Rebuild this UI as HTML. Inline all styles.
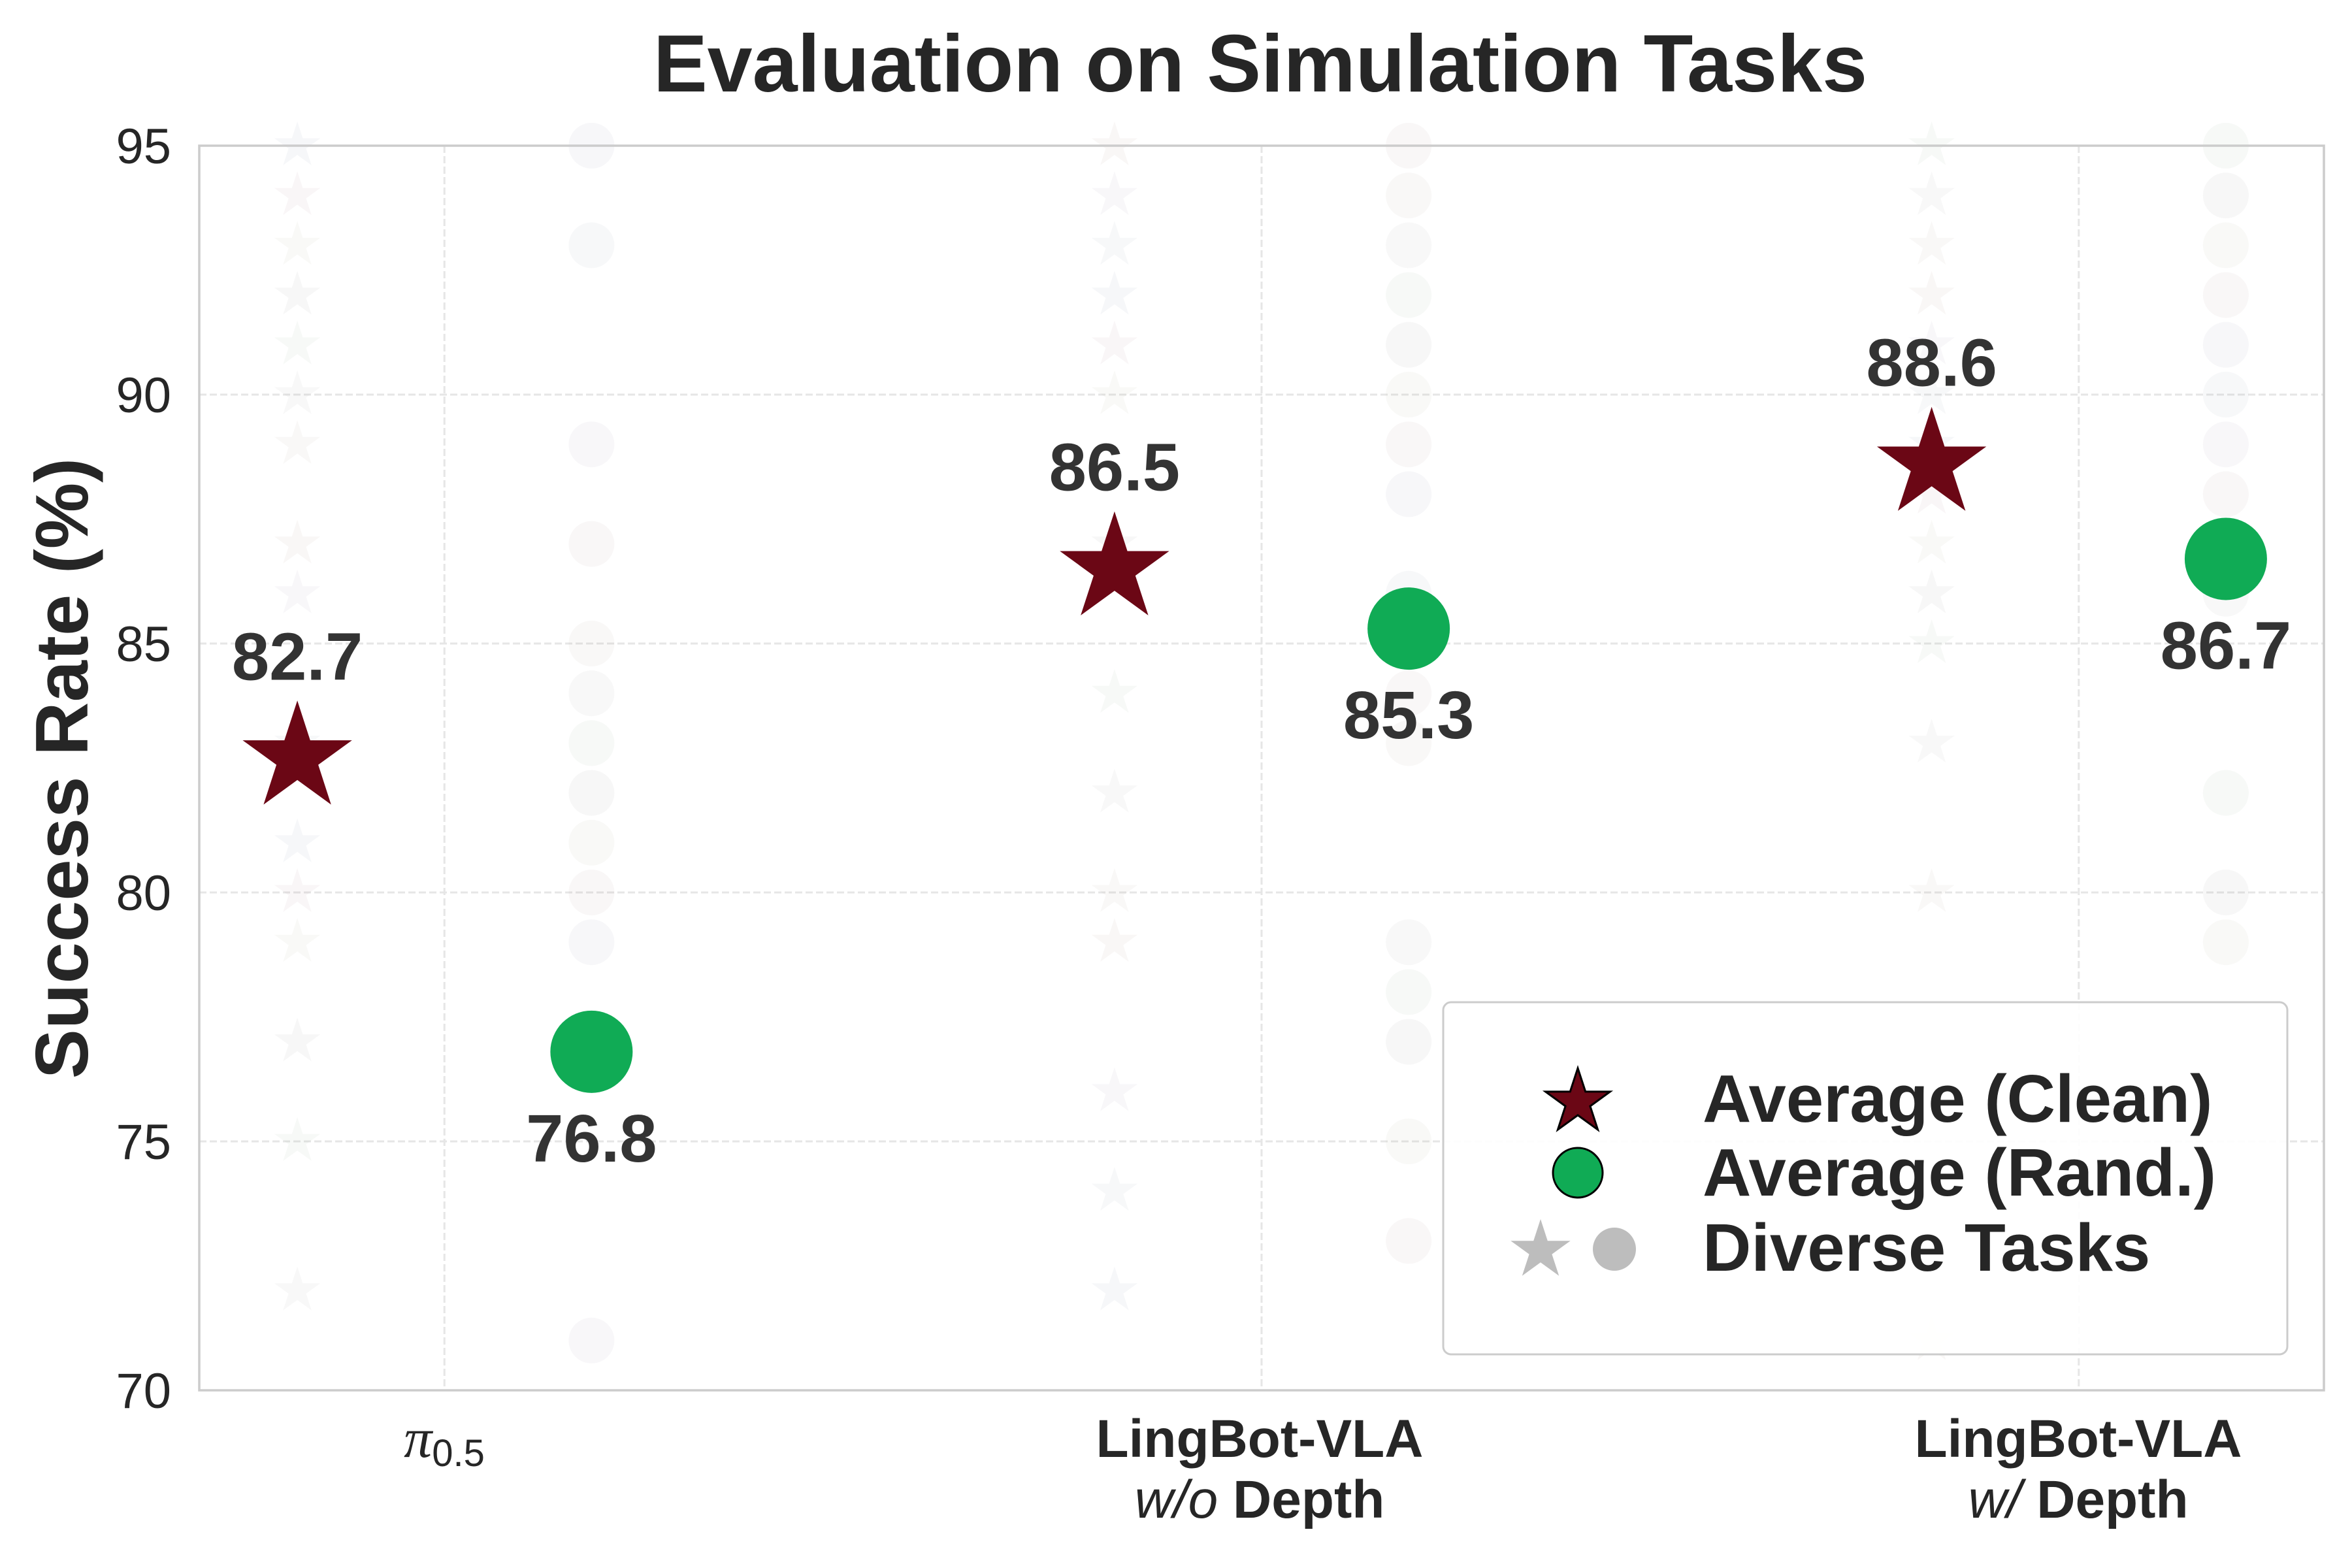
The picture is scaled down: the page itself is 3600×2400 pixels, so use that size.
<!DOCTYPE html>
<html><head><meta charset="utf-8">
<style>
html,body{margin:0;padding:0;background:#fff;}
svg{display:block;}
text{font-family:"Liberation Sans",Arial,sans-serif;}
</style></head>
<body>
<svg id="chart" width="3600" height="2400" viewBox="0 0 3600 2400" xmlns="http://www.w3.org/2000/svg">
<rect width="3600" height="2400" fill="#fff"/>
<text x="1929" y="140" text-anchor="middle" font-size="124" font-weight="bold" fill="#262626">Evaluation on Simulation Tasks</text>
<text transform="translate(134,1176) rotate(-90)" text-anchor="middle" font-size="114" font-weight="bold" fill="#262626">Success Rate (%)</text>
<g id="grid"></g>
<g id="faint"></g>
<rect x="305" y="223" width="3252" height="1905" fill="none" stroke="#cccccc" stroke-width="3.5"/>
<g id="yticks"></g>
<g id="xticks">
  <text x="680" y="2230" text-anchor="middle" font-size="80" fill="#262626"><tspan font-style="italic" font-family="'Liberation Serif',serif" font-size="86">π</tspan><tspan font-size="58" dy="14">0.5</tspan></text>
  <text x="1928" y="2230" text-anchor="middle" font-size="82" font-weight="bold" fill="#262626">LingBot-VLA</text>
  <text x="1928" y="2323" text-anchor="middle" font-size="82" font-weight="bold" fill="#262626"><tspan font-style="italic" font-weight="normal">w/o</tspan> Depth</text>
  <text x="3181" y="2230" text-anchor="middle" font-size="82" font-weight="bold" fill="#262626">LingBot-VLA</text>
  <text x="3181" y="2323" text-anchor="middle" font-size="82" font-weight="bold" fill="#262626"><tspan font-style="italic" font-weight="normal">w/</tspan> Depth</text>
</g>
<g id="marks"></g>
<g id="legend">
  <rect x="2209" y="1534" width="1292" height="539" rx="12" fill="#fff" fill-opacity="0.9" stroke="#cccccc" stroke-width="3"/>
  <path id="lgStar" fill="#6b0715" stroke="#000" stroke-width="3"/>
  <circle cx="2415" cy="1795" r="38" fill="#10ab55" stroke="#000" stroke-width="3"/>
  <path id="lgGreyStar" fill="#bdbdbd"/>
  <circle cx="2471" cy="1912" r="33" fill="#bdbdbd"/>
  <text x="2606" y="1717" font-size="103" font-weight="bold" fill="#262626">Average (Clean)</text>
  <text x="2606" y="1830" font-size="103" font-weight="bold" fill="#262626">Average (Rand.)</text>
  <text x="2606" y="1945" font-size="103" font-weight="bold" fill="#262626">Diverse Tasks</text>
</g>
</svg>
<script>
const categories = ["pi0.5", "LingBot-VLA w/o Depth", "LingBot-VLA w/ Depth"];
const cleanAvg = [82.7, 86.5, 88.6];
const randAvg = [76.8, 85.3, 86.7];
const cleanTasks0 = [95, 94, 93, 92, 91, 90, 89, 87, 86, 83, 81, 80, 79, 77, 75, 72];
const randTasks0 = [95, 93, 89, 87, 85, 84, 83, 82, 81, 80, 79, 77, 71];
const cleanTasks1 = [95, 94, 93, 92, 91, 90, 87, 84, 82, 80, 79, 76, 74, 72];
const randTasks1 = [95, 94, 93, 92, 91, 90, 89, 88, 86, 85, 84, 83, 79, 78, 77, 75, 73];
const cleanTasks2 = [95, 94, 93, 92, 91, 90, 89, 88, 87, 86, 85, 83, 80, 71];
const randTasks2 = [95, 94, 93, 92, 91, 90, 89, 88, 87, 86, 82, 80, 79, 77, 72];
const yTicks = [70, 75, 80, 85, 90, 95];

const NS = "http://www.w3.org/2000/svg";
const L = 305, R = 3557, T = 223, B = 2128;
const xMin = -0.3, xMax = 2.3, yMin = 70, yMax = 95;
function xScale(g) { return L + (g - xMin) / (xMax - xMin) * (R - L); }
function yScale(v) { return B - (v - yMin) / (yMax - yMin) * (B - T); }
function starPath(cx, cy, r) {
  const ri = r * 0.381966; let d = "";
  for (let i = 0; i < 10; i++) {
    const a = -Math.PI / 2 + i * Math.PI / 5;
    const rr = i % 2 ? ri : r;
    d += (i ? "L" : "M") + (cx + rr * Math.cos(a)).toFixed(1) + "," + (cy + rr * Math.sin(a)).toFixed(1);
  }
  return d + "Z";
}
function mk(tag, attrs, parent) {
  const e = document.createElementNS(NS, tag);
  for (const k in attrs) e.setAttribute(k, attrs[k]);
  parent.appendChild(e); return e;
}
const grid = document.getElementById("grid");
const yt = document.getElementById("yticks");
yTicks.forEach(v => {
  const ln = mk("line", {x1: L, x2: R, y1: yScale(v), y2: yScale(v), stroke: "#e6e6e6", "stroke-width": 3, "stroke-dasharray": "11,5"}, grid);
  
  
  const t = mk("text", {x: 262, y: yScale(v) + 27, "text-anchor": "end", "font-size": 76, fill: "#262626"}, yt);
  t.textContent = v;
  
  
});
categories.forEach((c, g) => {
  const ln = mk("line", {x1: xScale(g), x2: xScale(g), y1: T, y2: B, stroke: "#e6e6e6", "stroke-width": 3, "stroke-dasharray": "11,5"}, grid);
  
  
});
const palette = ["#5a6a8a","#8a6a5a","#6a8a6a","#8a5a6a","#7a6a8a","#7a7a7a","#8a8a6a","#6a7a8a","#8a7a6a","#6a6a6a"];
const faint = document.getElementById("faint");
const off = 0.18;
const cleanSets = [cleanTasks0, cleanTasks1, cleanTasks2];
const randSets = [randTasks0, randTasks1, randTasks2];
cleanSets.forEach((arr, g) => arr.forEach((v, i) => {
  const p = mk("path", {d: starPath(xScale(g - off), yScale(v), 37), fill: palette[(i * 3 + g) % 10], "fill-opacity": 0.055}, faint);
  
  
}));
randSets.forEach((arr, g) => arr.forEach((v, i) => {
  const c = mk("circle", {cx: xScale(g + off), cy: yScale(v), r: 35, fill: palette[(i * 7 + g) % 10], "fill-opacity": 0.05}, faint);
  
  
}));
const marks = document.getElementById("marks");
cleanAvg.forEach((v, g) => {
  const s = mk("path", {d: starPath(xScale(g - off), yScale(v), 88), fill: "#6b0715"}, marks);
  
  
  const t = mk("text", {x: xScale(g - off), y: yScale(v) - 120, "text-anchor": "middle", "font-size": 103, "font-weight": "bold", fill: "#333"}, marks);
  t.textContent = v.toFixed(1);
  
  
});
randAvg.forEach((v, g) => {
  const c = mk("circle", {cx: xScale(g + off), cy: yScale(v), r: 63, fill: "#10ab55"}, marks);
  
  
  const t = mk("text", {x: xScale(g + off), y: yScale(v) + 168, "text-anchor": "middle", "font-size": 103, "font-weight": "bold", fill: "#333"}, marks);
  t.textContent = v.toFixed(1);
  
  
});
document.getElementById("lgStar").setAttribute("d", starPath(2415, 1687, 52));
document.getElementById("lgGreyStar").setAttribute("d", starPath(2358, 1914, 48));
</script>
</body></html>
